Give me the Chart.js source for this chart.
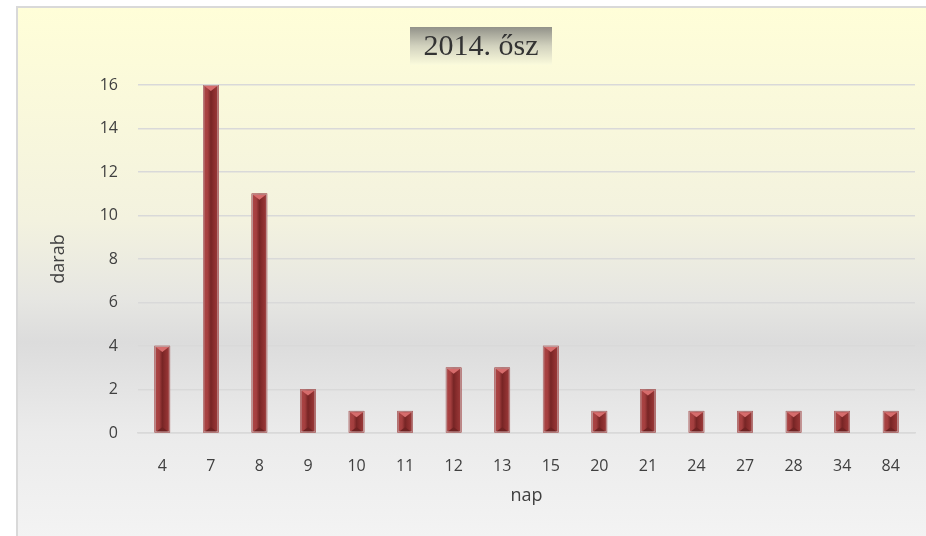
<!DOCTYPE html>
<html>
<head>
<meta charset="utf-8">
<script src="https://cdn.jsdelivr.net/npm/chart.js@4/dist/chart.umd.min.js"></script>
<style>
  html, body { margin: 0; padding: 0; background: #fff; }
  body { width: 926px; height: 536px; overflow: hidden; position: relative; }
  #box {
    position: absolute; left: 16px; top: 6px; width: 910px; height: 530px;
    border-left: 2px solid #d9d9d9; border-top: 2px solid #d9d9d9;
    background: linear-gradient(to bottom, #fffed8 0%, #f3f2df 40%, #e6e6e2 55%, #dcdcdc 63%, #ebebeb 80%, #f3f3f3 100%);
  }
  #wrap { position: absolute; left: 0; top: 0; width: 908px; height: 528px; }
</style>
</head>
<body>
<div id="box"><div id="wrap"><canvas id="c"></canvas></div></div>
<script>
  // kategóriák (nap) és értékek (darab)
  const days = ['4', '7', '8', '9', '10', '11', '12', '13', '15', '20', '21', '24', '27', '28', '34', '84'];
  const counts = [4, 16, 11, 2, 1, 1, 3, 3, 4, 1, 2, 1, 1, 1, 1, 1];
  const yTicks = [0, 2, 4, 6, 8, 10, 12, 14, 16];
  const chartTitle = '2014. ősz';

  const tickFont = { family: 'Open Sans', size: 16 };
  const axisFont = { family: 'Open Sans', size: 18 };

  // bevelled bars + title box
  const decor = {
    id: 'decor',
    afterDatasetsDraw(chart) {
      const c = chart.ctx;
      const meta = chart.getDatasetMeta(0);
      meta.data.forEach(bar => {
        const w = bar.width, l = bar.x - w / 2, r = bar.x + w / 2;
        const top = bar.y, base = bar.base;
        c.save();
        const g = c.createLinearGradient(l, 0, r, 0);
        g.addColorStop(0, '#ad4646');
        g.addColorStop(0.3, '#a33e3e');
        g.addColorStop(0.5, '#772525');
        g.addColorStop(0.65, '#852b2b');
        g.addColorStop(1, '#9e3b3b');
        c.fillStyle = g;
        c.fillRect(l, top, w, base - top);
        c.strokeStyle = '#c09a9a';
        c.lineWidth = 1;
        c.strokeRect(l + 0.5, top + 0.5, w - 1, base - top - 1);
        c.fillStyle = '#d66c6c';
        c.beginPath();
        c.moveTo(l + 1, top + 1);
        c.lineTo(r - 1, top + 1);
        c.lineTo(bar.x, top + 6);
        c.closePath();
        c.fill();
        c.fillStyle = '#6e2222';
        c.beginPath();
        c.moveTo(l + 2, base - 1);
        c.lineTo(r - 2, base - 1);
        c.lineTo(bar.x, base - 5);
        c.closePath();
        c.fill();
        c.restore();
      });
    },
    afterDraw(chart) {
      const c = chart.ctx;
      const x0 = 392, y0 = 19, w = 142, h = 38;
      c.save();
      const g = c.createLinearGradient(0, y0, 0, y0 + h);
      g.addColorStop(0, '#929289');
      g.addColorStop(0.5, '#d2d2be');
      g.addColorStop(1, '#fbfbdc');
      c.fillStyle = g;
      c.fillRect(x0, y0, w, h);
      c.fillStyle = '#333333';
      c.font = '30px "Liberation Serif"';
      c.textAlign = 'center';
      c.textBaseline = 'middle';
      c.fillText(chartTitle, x0 + w / 2, y0 + h / 2 + 1);
      c.restore();
    }
  };

  new Chart(document.getElementById('c'), {
    type: 'bar',
    data: {
      labels: days,
      datasets: [{
        data: counts,
        backgroundColor: '#9b3535',
        borderWidth: 0,
        barThickness: 15
      }]
    },
    plugins: [decor],
    options: {
      responsive: true,
      maintainAspectRatio: false,
      animation: false,
      layout: { padding: { top: 77, right: 11, left: 0, bottom: 0 } },
      plugins: { legend: { display: false }, tooltip: { enabled: false } },
      scales: {
        x: {
          grid: { display: false },
          border: { color: '#d9d9d9', width: 1.5 },
          ticks: { font: tickFont, color: '#404040', padding: 16, maxRotation: 0 },
          title: { display: true, text: 'nap', font: axisFont, color: '#404040', padding: { bottom: 29 } },
          afterFit: s => { s.height = 103; }
        },
        y: {
          min: 0, max: 16,
          afterBuildTicks: s => { s.ticks = yTicks.map(v => ({ value: v })); },
          grid: { color: '#d9d9d9', lineWidth: 1.5, drawTicks: false },
          border: { display: false },
          ticks: { font: tickFont, color: '#404040', padding: 20 },
          title: { display: true, text: 'darab', font: axisFont, color: '#404040', padding: { top: 30 } },
          afterFit: s => { s.width = 120; }
        }
      }
    }
  });
</script>
</body>
</html>
